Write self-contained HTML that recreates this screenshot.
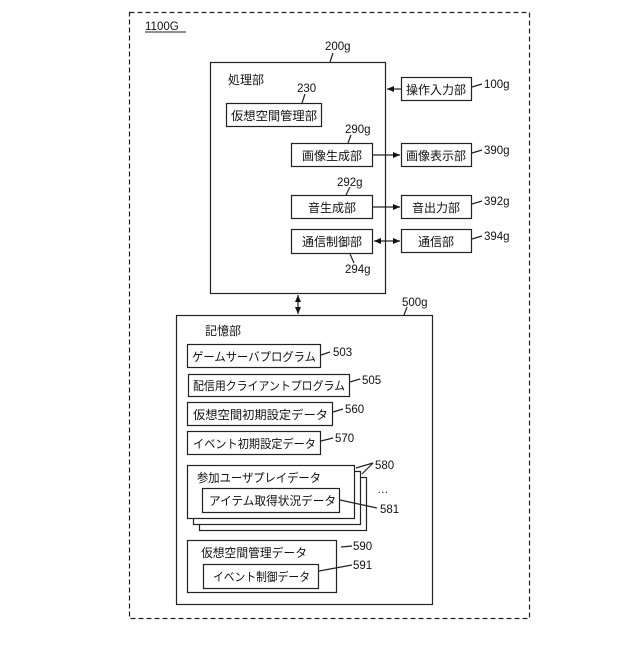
<!DOCTYPE html>
<html><head><meta charset="utf-8"><style>
html,body{margin:0;padding:0;background:#fff;}
svg text{font-family:"Liberation Sans","Noto Sans CJK JP",sans-serif;font-size:12px;fill:#111;}
.n{font-size:11.5px;}
</style></head><body>
<svg width="640" height="640" viewBox="0 0 640 640" xmlns="http://www.w3.org/2000/svg">
<defs>
<marker id="a" markerWidth="8" markerHeight="8" refX="7" refY="4" orient="auto" markerUnits="userSpaceOnUse"><path d="M0,1 L7,4 L0,7 Z" fill="#111"/></marker>
<marker id="b" markerWidth="8" markerHeight="8" refX="1" refY="4" orient="auto" markerUnits="userSpaceOnUse"><path d="M8,1 L1,4 L8,7 Z" fill="#111"/></marker>
</defs>
<g fill="none" stroke="#222" stroke-width="1.2">
<rect x="129.5" y="12.5" width="400" height="606" stroke-dasharray="5,3"/>
<rect x="210.5" y="62.5" width="175" height="231"/>
<rect x="226.5" y="103.5" width="95" height="23"/>
<rect x="291.5" y="143.5" width="81" height="23"/>
<rect x="291.5" y="195.5" width="81" height="23"/>
<rect x="291.5" y="229.5" width="81" height="24"/>
<rect x="401.5" y="77.5" width="70" height="23"/>
<rect x="401.5" y="143.5" width="70" height="23"/>
<rect x="401.5" y="195.5" width="70" height="23"/>
<rect x="401.5" y="229.5" width="70" height="23"/>
<rect x="176.5" y="315.5" width="256" height="289"/>
<rect x="187.5" y="344.5" width="133" height="23"/>
<rect x="188.5" y="374.5" width="161" height="22"/>
<rect x="187.5" y="402.5" width="145" height="23"/>
<rect x="187.5" y="431.5" width="133" height="23"/>
<rect x="199.5" y="477.5" width="167" height="53" fill="#fff"/>
<rect x="193.5" y="471.5" width="167" height="53" fill="#fff"/>
<rect x="187.5" y="465.5" width="167" height="53" fill="#fff"/>
<rect x="202.5" y="488.5" width="137" height="24"/>
<rect x="187.5" y="540.5" width="149" height="52"/>
<rect x="203.5" y="564.5" width="115" height="24"/>
<line x1="401" y1="89" x2="387" y2="89" marker-end="url(#a)"/>
<line x1="373" y1="155" x2="400" y2="155" marker-end="url(#a)"/>
<line x1="373" y1="207" x2="400" y2="207" marker-end="url(#a)"/>
<line x1="374" y1="241" x2="400" y2="241" marker-start="url(#b)" marker-end="url(#a)"/>
<line x1="298" y1="295" x2="298" y2="314" marker-start="url(#b)" marker-end="url(#a)"/>
<line x1="333" y1="53" x2="330" y2="62"/>
<line x1="305" y1="94" x2="302" y2="103"/>
<line x1="351" y1="135" x2="348" y2="143"/>
<line x1="350" y1="187" x2="346" y2="195"/>
<line x1="354" y1="263" x2="350" y2="254"/>
<line x1="472" y1="87" x2="482" y2="84"/>
<line x1="472" y1="153" x2="482" y2="150"/>
<line x1="472" y1="204" x2="482" y2="201"/>
<line x1="472" y1="239" x2="482" y2="236"/>
<line x1="407" y1="307" x2="404" y2="315"/>
<line x1="321" y1="355" x2="330" y2="352"/>
<line x1="350" y1="382" x2="360" y2="379"/>
<line x1="333" y1="412" x2="343" y2="409"/>
<line x1="321" y1="441" x2="333" y2="438"/>
<line x1="356" y1="468" x2="373" y2="463"/>
<line x1="362" y1="474" x2="373" y2="463"/>
<line x1="340" y1="500" x2="377" y2="508"/>
<line x1="341" y1="547" x2="352" y2="546"/>
<line x1="319" y1="571" x2="352" y2="565"/>
</g>
<line x1="145" y1="32" x2="186" y2="32" stroke="#222" stroke-width="1"/>
<text x="145" y="30" class="n">1100G</text>
<text x="325" y="50" class="n">200g</text>
<text x="228" y="84">処理部</text>
<text x="297" y="92" class="n">230</text>
<text x="231" y="120" textLength="86" lengthAdjust="spacingAndGlyphs">仮想空間管理部</text>
<text x="345" y="133" class="n">290g</text>
<text x="302" y="160">画像生成部</text>
<text x="337" y="186" class="n">292g</text>
<text x="308" y="212">音生成部</text>
<text x="302" y="246">通信制御部</text>
<text x="345" y="273" class="n">294g</text>
<text x="406" y="94">操作入力部</text>
<text x="406" y="160">画像表示部</text>
<text x="412" y="212">音出力部</text>
<text x="418" y="246">通信部</text>
<text x="484" y="88" class="n">100g</text>
<text x="484" y="154" class="n">390g</text>
<text x="484" y="205" class="n">392g</text>
<text x="484" y="240" class="n">394g</text>
<text x="402" y="306" class="n">500g</text>
<text x="205" y="335">記憶部</text>
<text x="192" y="361" textLength="124" lengthAdjust="spacingAndGlyphs">ゲームサーバプログラム</text>
<text x="333" y="356" class="n">503</text>
<text x="193" y="390" textLength="152" lengthAdjust="spacingAndGlyphs">配信用クライアントプログラム</text>
<text x="362" y="384" class="n">505</text>
<text x="193" y="419" textLength="135" lengthAdjust="spacingAndGlyphs">仮想空間初期設定データ</text>
<text x="345" y="413" class="n">560</text>
<text x="193" y="448" textLength="123" lengthAdjust="spacingAndGlyphs">イベント初期設定データ</text>
<text x="335" y="442" class="n">570</text>
<text x="197" y="482" textLength="124" lengthAdjust="spacingAndGlyphs">参加ユーザプレイデータ</text>
<text x="375" y="469" class="n">580</text>
<text x="377" y="493" class="n">…</text>
<text x="209" y="505" textLength="127" lengthAdjust="spacingAndGlyphs">アイテム取得状況データ</text>
<text x="380" y="513" class="n">581</text>
<text x="201" y="557" textLength="106" lengthAdjust="spacingAndGlyphs">仮想空間管理データ</text>
<text x="353" y="550" class="n">590</text>
<text x="213" y="581" textLength="97" lengthAdjust="spacingAndGlyphs">イベント制御データ</text>
<text x="353" y="569" class="n">591</text>
</svg>
</body></html>
